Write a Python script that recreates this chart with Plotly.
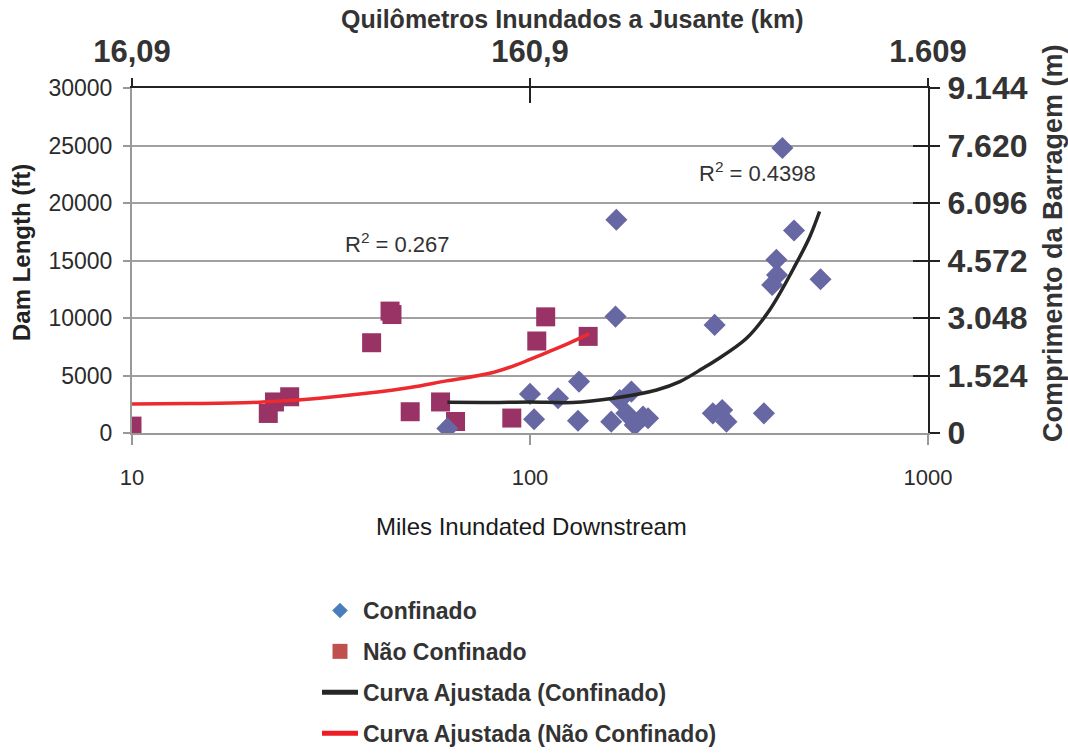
import plotly.graph_objects as go

# ---------------- data ----------------
conf_x = [62, 100, 102.4, 117.6, 132.8, 132, 164.8, 164, 160, 168, 179.8, 174.6, 183.3,
          192.3, 198, 291, 288, 304, 311.6, 387, 416, 417.5, 406, 430.6, 460.7, 537]
conf_y = [400, 3400, 1200, 3020, 4470, 1070, 18540, 10120, 985, 2870, 3600, 1710, 700,
          1420, 1280, 9400, 1710, 2000, 985, 1710, 15060, 13750, 12880, 24780, 17610, 13370]

nconf_x = [10, 22, 22.8, 24.9, 40, 44.5, 45, 50, 59.6, 65, 90, 104, 109.5, 140]
nconf_y = [600, 1700, 2700, 3150, 7850, 10600, 10300, 1850, 2700, 1000, 1300, 8000, 10100, 8400]

fitc_x = [62, 80, 100, 128, 162, 208, 238, 272, 294, 350, 400, 467, 505, 534]
fitc_y = [2670, 2660, 2700, 2650, 3020, 3740, 4470, 5630, 6350, 8240, 10700, 14770, 17090, 19260]

fitn_x = [10, 14, 20, 24, 30, 38.8, 50, 61.7, 79.2, 92.4, 100, 112, 125, 140.7]
fitn_y = [2520, 2560, 2650, 2800, 3050, 3450, 3950, 4530, 5190, 5920, 6400, 7100, 7800, 8620]

bottom_ticks = [10, 100, 1000]
bottom_labels = ["10", "100", "1000"]
top_labels = ["16,09", "160,9", "1.609"]
left_ticks = [0, 5000, 10000, 15000, 20000, 25000, 30000]
right_ticks = [0, 1.524, 3.048, 4.572, 6.096, 7.620, 9.144]
right_labels = ["0", "1.524", "3.048", "4.572", "6.096", "7.620", "9.144"]

r2_conf = "R<sup>2</sup> = 0.4398"
r2_nconf = "R<sup>2</sup> = 0.267"

# ---------------- layout helpers ----------------
W, H = 1068, 754
L, R, T, B = 132, 928, 88, 433


def px(x):
    return (x - L) / (R - L)


def py(y):
    return (B - y) / (B - T)


SANS = "Liberation Sans, Arial, sans-serif"

fig = go.Figure()

fig.add_trace(go.Scatter(x=nconf_x, y=nconf_y, mode="markers", showlegend=False,
                         marker=dict(symbol="square", size=19, color="#993366")))
fig.add_trace(go.Scatter(x=conf_x, y=conf_y, mode="markers", showlegend=False,
                         marker=dict(symbol="diamond", size=17, color="#6667A3")))
fig.add_trace(go.Scatter(x=fitn_x, y=fitn_y, mode="lines", showlegend=False,
                         line=dict(color="#EC2A2F", width=3.5, shape="spline")))
fig.add_trace(go.Scatter(x=fitc_x, y=fitc_y, mode="lines", showlegend=False,
                         line=dict(color="#262626", width=3.5, shape="spline")))

# legend entries
fig.add_trace(go.Scatter(x=[None], y=[None], xaxis="x2", yaxis="y", mode="markers",
                         name="Confinado", legendgroup="a",
                         marker=dict(symbol="diamond", size=12, color="#4A7EBB")))
fig.add_trace(go.Scatter(x=[None], y=[None], xaxis="x3", yaxis="y", mode="markers",
                         name="Não Confinado", legendgroup="b",
                         marker=dict(symbol="square", size=15, color="#C0504D")))
fig.add_trace(go.Scatter(x=[None], y=[None], xaxis="x", yaxis="y2", mode="lines",
                         name="Curva Ajustada (Confinado)", legendgroup="c",
                         line=dict(color="#262626", width=5)))
fig.add_trace(go.Scatter(x=[None], y=[None], xaxis="x", yaxis="y3", mode="lines",
                         name="Curva Ajustada (Não Confinado)", legendgroup="d",
                         line=dict(color="#EE1C24", width=5)))

fig.update_layout(
    width=W, height=H, autosize=False, template="none",
    paper_bgcolor="white", plot_bgcolor="white",
    margin=dict(l=L, r=W - R, t=T, b=H - B, pad=0, autoexpand=False),
    font=dict(family=SANS, color="#333333"),
    xaxis=dict(type="log", range=[1, 3], tickvals=bottom_ticks, ticktext=bottom_labels,
               showgrid=False, zeroline=False, showline=True, linecolor="#999999", linewidth=2,
               ticks="outside", ticklen=10, tickwidth=1.5, tickcolor="#999999",
               tickfont=dict(family=SANS, size=22, color="#2b2b2b"), ticklabelstandoff=14,
               automargin=False),
    xaxis2=dict(type="log", range=[1, 3], overlaying="x", side="top", anchor="y",
                tickvals=bottom_ticks, ticktext=top_labels, showgrid=False, zeroline=False,
                showline=True, linecolor="#222222", linewidth=2,
                ticks="outside", ticklen=8, tickwidth=1.5, tickcolor="#222222",
                tickfont=dict(family=SANS, size=31, color="#333333", weight="bold"),
                ticklabelstandoff=4, automargin=False),
    xaxis3=dict(type="log", range=[1, 3], overlaying="x", side="top", anchor="y",
                tickvals=bottom_ticks, showticklabels=False, showgrid=False, zeroline=False,
                showline=False, ticks="inside", ticklen=15, tickwidth=1.5, tickcolor="#222222",
                automargin=False),
    yaxis=dict(range=[0, 30000], tickvals=left_ticks, ticktext=[str(v) for v in left_ticks],
               showgrid=True, gridcolor="#A0A0A0", gridwidth=2, zeroline=False,
               showline=True, linecolor="#999999", linewidth=2,
               ticks="outside", ticklen=7, tickwidth=1.5, tickcolor="#999999",
               tickfont=dict(family=SANS, size=23, color="#2b2b2b"), ticklabelstandoff=6,
               automargin=False),
    yaxis2=dict(range=[0, 9.144], overlaying="y", side="right", anchor="x",
                tickvals=right_ticks, ticktext=right_labels, showgrid=False, zeroline=False,
                showline=True, linecolor="#222222", linewidth=2,
                ticks="outside", ticklen=10, tickwidth=1.5, tickcolor="#222222",
                tickfont=dict(family=SANS, size=32, color="#333333", weight="bold"),
                ticklabelstandoff=1, automargin=False),
    yaxis3=dict(range=[0, 9.144], overlaying="y", side="right", anchor="x",
                tickvals=right_ticks, showticklabels=False, showgrid=False, zeroline=False,
                showline=False, ticks="inside", ticklen=15, tickwidth=1.5, tickcolor="#222222",
                automargin=False),
    legend=dict(x=px(317), y=py(589), xanchor="left", yanchor="top",
                font=dict(family=SANS, size=23, color="#333333", weight="bold"),
                bgcolor="rgba(0,0,0,0)", tracegroupgap=8, itemwidth=36,
                traceorder="grouped", itemsizing="trace"),
)

ann = [
    dict(text="Quilômetros Inundados a Jusante (km)", x=px(572), y=py(19),
         font=dict(family=SANS, size=25, color="#333333", weight="bold")),
    dict(text="Comprimento da Barragem (m)", x=px(1053), y=py(243), textangle=-90,
         font=dict(family=SANS, size=27, color="#333333", weight="bold")),
    dict(text="Dam Length (ft)", x=px(21), y=py(253), textangle=-90,
         font=dict(family=SANS, size=24, color="#222222", weight="bold")),
    dict(text="Miles Inundated Downstream", x=px(531), y=py(526),
         font=dict(family=SANS, size=24, color="#1a1a1a")),
]
for a in ann:
    fig.add_annotation(xref="paper", yref="paper", showarrow=False,
                       xanchor="center", yanchor="middle", **a)

fig.add_annotation(xref="paper", yref="paper", x=px(343), y=py(243), text=r2_nconf,
                   showarrow=False, xanchor="left", yanchor="middle",
                   font=dict(family=SANS, size=22, color="#333333"))
fig.add_annotation(xref="paper", yref="paper", x=px(697), y=py(172), text=r2_conf,
                   showarrow=False, xanchor="left", yanchor="middle",
                   font=dict(family=SANS, size=22, color="#333333"))

fig.write_html("out.html")
